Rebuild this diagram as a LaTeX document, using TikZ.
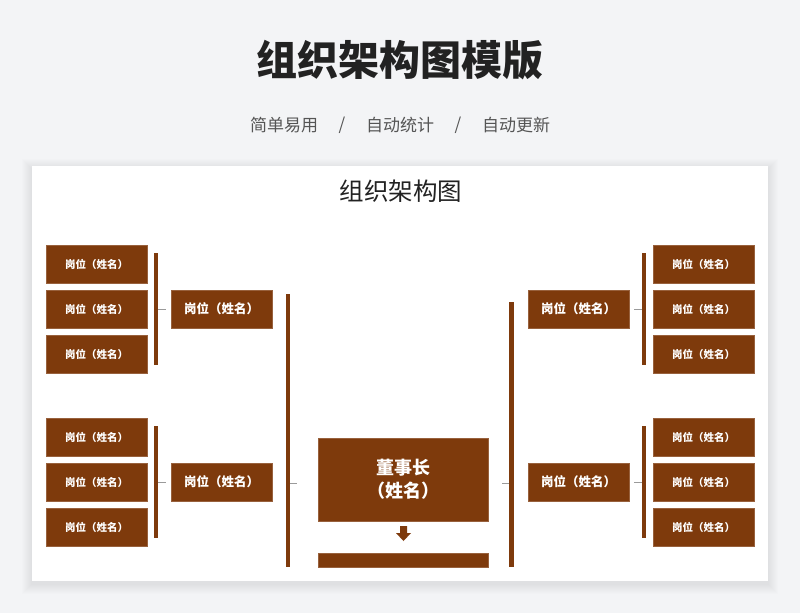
\documentclass[tikz,border=0pt]{standalone}
\usepackage{fontspec}
\setmainfont{Noto Sans CJK SC}
\usetikzlibrary{calc}
\definecolor{bg}{HTML}{F3F4F6}
\definecolor{brown}{HTML}{7E3A0C}
\definecolor{tick}{HTML}{9A9A9A}
\definecolor{ttl}{HTML}{222222}
\definecolor{sub}{HTML}{555555}
\tikzset{
  smallbox/.style={fill=brown, draw=brown!80!white, line width=0.4pt, minimum width=101pt, minimum height=38pt, inner sep=0pt, text=white, font=\fontsize{10.5}{12}\selectfont\bfseries},
  midbox/.style={smallbox, font=\fontsize{12.5}{14}\selectfont\bfseries},
  bossbox/.style={fill=brown, draw=brown!80!white, line width=0.4pt, minimum width=170pt, minimum height=83pt, inner sep=0pt, text=white, align=center, font=\fontsize{18}{23}\selectfont\bfseries},
  thinbar/.style={fill=brown, draw=none, inner sep=0pt, minimum width=4pt},
  tickline/.style={draw=tick, line width=0.8pt},
  subtxt/.style={font=\fontsize{17}{17}\selectfont, text=sub},
}
\begin{document}
\begin{tikzpicture}[x=1pt,y=-1pt]
\useasboundingbox (0,0) rectangle (800,613);
\fill[bg] (0,0) rectangle (800,613);
% card shadow (soft)
\foreach \d in {1,2,...,10}{
  \fill[black,opacity=0.007] (32-\d,166-\d+3) rectangle (768+\d,581+\d+3);
}
\fill[white] (32,166) rectangle (768,581);
% titles
\node[font=\fontsize{41}{41}\selectfont\bfseries, text=ttl] (title) at (400,60) {组织架构图模版};
\node[subtxt] (sub1) at (284,125) {简单易用};
\node[subtxt] (sl1) at (342,125) {/};
\node[subtxt] (sub2) at (400,125) {自动统计};
\node[subtxt] (sl2) at (458,125) {/};
\node[subtxt] (sub3) at (516,125) {自动更新};
\node[font=\fontsize{24.5}{25}\selectfont, text=ttl] (cardtitle) at (401,191) {组织架构图};
% left upper group
\node[smallbox] (lu1) at (96.5,264) {岗位（姓名）};
\node[smallbox] (lu2) at (96.5,309) {岗位（姓名）};
\node[smallbox] (lu3) at (96.5,354) {岗位（姓名）};
\node[thinbar, minimum height=112pt] (lubar) at (156,309) {};
\node[midbox] (lum) at (221.5,309) {岗位（姓名）};
\draw[tickline] (lubar.east) -- ++(8,0) coordinate (lutick);
% left lower group
\node[smallbox] (ll1) at (96.5,437) {岗位（姓名）};
\node[smallbox] (ll2) at (96.5,482) {岗位（姓名）};
\node[smallbox] (ll3) at (96.5,527) {岗位（姓名）};
\node[thinbar, minimum height=112pt] (llbar) at (156,482) {};
\node[midbox] (llm) at (221.5,482) {岗位（姓名）};
\draw[tickline] (llbar.east) -- ++(8,0) coordinate (lltick);
% right upper group
\node[smallbox] (ru1) at (703.5,264) {岗位（姓名）};
\node[smallbox] (ru2) at (703.5,309) {岗位（姓名）};
\node[smallbox] (ru3) at (703.5,354) {岗位（姓名）};
\node[thinbar, minimum height=112pt] (rubar) at (644,309) {};
\node[midbox] (rum) at (578.5,309) {岗位（姓名）};
\draw[tickline] (rubar.west) -- ++(-8,0) coordinate (rutick);
% right lower group
\node[smallbox] (rl1) at (703.5,437) {岗位（姓名）};
\node[smallbox] (rl2) at (703.5,482) {岗位（姓名）};
\node[smallbox] (rl3) at (703.5,527) {岗位（姓名）};
\node[thinbar, minimum height=112pt] (rlbar) at (644,482) {};
\node[midbox] (rlm) at (578.5,482) {岗位（姓名）};
\draw[tickline] (rlbar.west) -- ++(-8,0) coordinate (rltick);
% big bars
\node[thinbar, minimum height=273pt, anchor=north] (lbig) at (288,294) {};
\node[thinbar, minimum height=265pt, minimum width=5pt, anchor=north] (rbig) at (511.5,302) {};
% boss
\node[bossbox] (boss) at (403,479.5) {董事长\\（姓名）};
\draw[tickline] (lbig.east |- boss.center) ++(0,3.5) -- ++(7,0) coordinate (ltk);
\draw[tickline] (rbig.west |- boss.center) ++(0,3.5) -- ++(-7,0) coordinate (rtk);
% arrow
\fill[brown] (400,526) -- (407,526) -- (407,533) -- (411,533) -- (403.5,541) -- (396,533) -- (400,533) -- cycle;
\node[fill=brown, draw=brown!80!white, line width=0.4pt, minimum width=170pt, minimum height=14pt, inner sep=0pt, anchor=north] (base) at (403,553) {};
\end{tikzpicture}
\end{document}
